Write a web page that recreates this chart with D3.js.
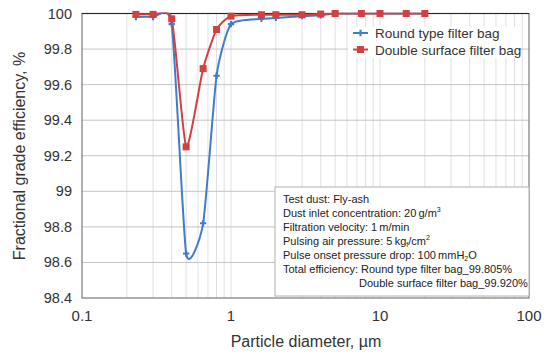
<!DOCTYPE html>
<html><head><meta charset="utf-8">
<script src="https://cdn.jsdelivr.net/npm/d3@7/dist/d3.min.js"></script>
<style>body{margin:0;background:#fff;} text{font-family:"Liberation Sans",Arial,sans-serif;fill:#333;}</style>
</head><body><svg id="c" width="553" height="355"></svg>
<script>
const diameters = [0.23, 0.3, 0.4, 0.5, 0.65, 0.8, 1, 1.6, 2, 3, 4, 5, 7.5, 10, 15, 20];
const roundBag = [99.98, 99.98, 99.94, 98.65, 98.82, 99.65, 99.94, 99.97, 99.975, 99.985, 99.99, 100, 100, 100, 100, 100];
const doubleBag = [99.995, 99.995, 99.97, 99.25, 99.69, 99.91, 99.985, 99.993, 99.993, 99.993, 99.997, 100, 100, 100, 100, 100];
const yTicks = [98.4, 98.6, 98.8, 99, 99.2, 99.4, 99.6, 99.8, 100];
const xTicks = [0.1, 1, 10, 100];
const seriesNames = ["Round type filter bag", "Double surface filter bag"];
const colors = ["#3f7dc6", "#d4403f"];
const noteLines = [
  [["Test dust: Fly-ash"]],
  [["Dust inlet concentration: 20\u2009g/m"], ["3", "sup"]],
  [["Filtration velocity: 1\u2009m/min"]],
  [["Pulsing air pressure: 5\u2009kg"], ["f", "sub"], ["/cm"], ["2", "sup"]],
  [["Pulse onset pressure drop: 100\u2009mmH"], ["2", "sub"], ["O"]],
  [["Total efficiency: Round type filter bag_99.805%"]],
  [["Double surface filter bag_99.920%"]]
];

const svg = d3.select("#c");
const L = 82, R = 529, T = 13.5, B = 298;
const x = d3.scaleLog().domain([0.1, 100]).range([L, R]);
const y = d3.scaleLinear().domain([98.4, 100]).range([B, T]);

// vertical gridlines
const vgrid = [];
[0.1, 1, 10].forEach(d => { for (let k = 2; k <= 10; k++) vgrid.push(d * k); });
svg.append("g").selectAll("line").data(vgrid.filter(v => v < 100)).join("line")
  .attr("x1", d => x(d)).attr("x2", d => x(d)).attr("y1", T).attr("y2", B)
  .attr("stroke", "#dde1e6").attr("stroke-width", 1);
// horizontal gridlines
svg.append("g").selectAll("line").data(yTicks.slice(1, -1)).join("line")
  .attr("x1", L).attr("x2", R).attr("y1", d => y(d)).attr("y2", d => y(d))
  .attr("stroke", "#c4c4c4").attr("stroke-width", 1);

// frame
svg.append("rect").attr("x", L).attr("y", T).attr("width", R - L).attr("height", B - T)
  .attr("fill", "none").attr("stroke", "#7a7a7a").attr("stroke-width", 1.2);
svg.append("line").attr("x1", L).attr("x2", R).attr("y1", y(100)).attr("y2", y(100))
  .attr("stroke", "#222").attr("stroke-width", 1.2);

// note box
const bx = 275, by = 187;
svg.append("rect").attr("x", bx).attr("y", by).attr("width", R - bx).attr("height", B - 2 - by)
  .attr("fill", "#fff").attr("stroke", "#b0b0b0").attr("stroke-width", 1);
const nt = svg.append("g");
noteLines.forEach((parts, i) => {
  const t = nt.append("text").attr("x", i === 6 ? 359 : 283).attr("y", 203 + i * 14)
    .attr("font-size", 11).style("fill", "#222");
  parts.forEach((p, k) => {
    const ts = t.append("tspan").text(p[0]);
    if (p[1] === "sup") ts.attr("font-size", 7).attr("dy", -5);
    if (p[1] === "sub") ts.attr("font-size", 7).attr("dy", 2);
    if (p[1] === undefined && k > 0) {
      const prev = parts[k - 1][1];
      if (prev === "sup") ts.attr("dy", 5);
      if (prev === "sub") ts.attr("dy", -2);
    }
  });
});

// clip
svg.append("clipPath").attr("id", "clip").append("rect").attr("x", L).attr("y", T - 1).attr("width", R - L).attr("height", B - T + 1);

const line = d3.line().x(d => x(d[0])).y(d => y(d[1])).curve(d3.curveCardinal.tension(0.45));
const dataSets = [roundBag, doubleBag];
dataSets.forEach((vals, i) => {
  const pts = diameters.map((d, j) => [d, vals[j]]);
  svg.append("path").datum(pts).attr("d", line).attr("fill", "none")
    .attr("stroke", colors[i]).attr("stroke-width", 2).attr("clip-path", "url(#clip)");
});
// markers
const bluePts = diameters.map((d, j) => [d, roundBag[j]]);
svg.append("g").selectAll("path").data(bluePts).join("path")
  .attr("d", d3.symbol().type(d3.symbolCross).size(22))
  .attr("transform", d => `translate(${x(d[0])},${y(d[1])})`).attr("fill", colors[0]);
const redPts = diameters.map((d, j) => [d, doubleBag[j]]);
svg.append("g").selectAll("rect").data(redPts).join("rect")
  .attr("x", d => x(d[0]) - 3.5).attr("y", d => y(d[1]) - 3.5).attr("width", 7).attr("height", 7)
  .attr("fill", colors[1]);

// legend
svg.append("rect").attr("x", 348).attr("y", 27).attr("width", 172).attr("height", 31).attr("fill", "#fff");
seriesNames.forEach((n, i) => {
  const ly = 33 + i * 16.5;
  svg.append("line").attr("x1", 353).attr("x2", 368).attr("y1", ly).attr("y2", ly)
    .attr("stroke", colors[i]).attr("stroke-width", 2);
  if (i === 0) svg.append("path").attr("d", d3.symbol().type(d3.symbolCross).size(22)())
    .attr("transform", `translate(360.5,${ly})`).attr("fill", colors[0]);
  else svg.append("rect").attr("x", 357).attr("y", ly - 3.5).attr("width", 7).attr("height", 7).attr("fill", colors[1]);
  svg.append("text").attr("x", 375).attr("y", ly + 5).attr("font-size", 13.5).text(n);
});

// axes labels
svg.append("g").selectAll("text").data(yTicks).join("text")
  .attr("x", 72).attr("y", d => y(d) + 5).attr("text-anchor", "end").attr("font-size", 14.5)
  .text(d => d3.format("")(d));
svg.append("g").selectAll("text").data(xTicks).join("text")
  .attr("x", d => x(d)).attr("y", 321).attr("text-anchor", "middle").attr("font-size", 15)
  .text(d => String(d));
svg.append("text").attr("x", 306).attr("y", 347).attr("text-anchor", "middle").attr("font-size", 16)
  .text("Particle diameter, \u00b5m");
svg.append("text").attr("transform", "translate(25,156) rotate(-90)").attr("text-anchor", "middle")
  .attr("font-size", 16).text("Fractional grade efficiency, %");
</script></body></html>
